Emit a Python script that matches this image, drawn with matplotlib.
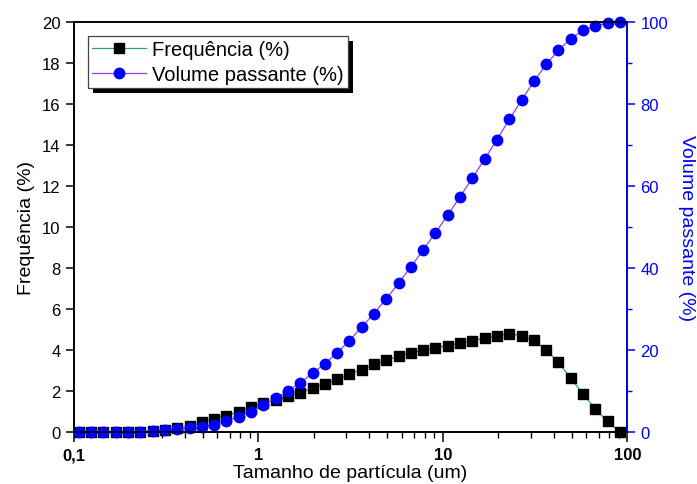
import matplotlib
matplotlib.use("Agg")
import matplotlib.pyplot as plt
from matplotlib.patches import Rectangle
from matplotlib.transforms import IdentityTransform
from matplotlib.ticker import FixedLocator, NullFormatter

plt.rcParams["font.family"] = ["Liberation Sans", "DejaVu Sans"]

# particle size classes (um)
tamanho = [0.1064, 0.1241, 0.1446, 0.1686, 0.1966, 0.2292, 0.2672, 0.3115, 0.3632,
           0.4235, 0.4937, 0.5756, 0.6711, 0.7825, 0.9123, 1.064, 1.241, 1.446,
           1.686, 1.966, 2.292, 2.672, 3.115, 3.632, 4.235, 4.937, 5.756, 6.711,
           7.825, 9.123, 10.64, 12.41, 14.46, 16.86, 19.66, 22.92, 26.72, 31.15,
           36.32, 42.35, 49.37, 57.56, 67.11, 78.25, 91.23]

frequencia = [0.0, 0.0, 0.0, 0.0, 0.0, 0.0, 0.03, 0.1, 0.18, 0.3, 0.47, 0.64, 0.8,
              1.0, 1.2, 1.4, 1.57, 1.76, 1.93, 2.13, 2.35, 2.57, 2.82, 3.05, 3.3,
              3.5, 3.7, 3.87, 4.0, 4.11, 4.22, 4.35, 4.45, 4.58, 4.68, 4.8, 4.7,
              4.48, 4.0, 3.4, 2.62, 1.86, 1.12, 0.52, 0.0]

volume = [0.0, 0.0, 0.0, 0.0, 0.0, 0.1, 0.3, 0.5, 0.7, 0.9, 1.2, 1.8, 2.7, 3.7,
          5.0, 6.5, 8.3, 10.0, 12.0, 14.3, 16.7, 19.3, 22.3, 25.6, 28.9, 32.5,
          36.3, 40.3, 44.4, 48.6, 52.9, 57.4, 61.9, 66.6, 71.3, 76.2, 80.9, 85.5,
          89.6, 93.1, 95.9, 97.9, 99.0, 99.7, 100.0]

x_ticks = [0.1, 1, 10, 100]
x_ticklabels = ["0,1", "1", "10", "100"]

blue = "#0000ff"
teal = "#2aa090"
purple = "#9a3cf0"

fig = plt.figure(figsize=(6.97, 4.85), dpi=100)
ax = fig.add_axes([0.106, 0.107, 0.794, 0.846])
ax2 = ax.twinx()

l1, = ax.plot(tamanho, frequencia, color=teal, lw=0.9, marker="s", ms=6.6,
              mfc="black", mec="black", clip_on=False, label="Frequência (%)")
l2, = ax2.plot(tamanho, volume, color=purple, lw=0.9, marker="o", ms=7.5,
               mfc=blue, mec=blue, clip_on=False, label="Volume passante (%)")

ax.set_xscale("log")
ax.set_xlim(0.1, 100)
ax.set_ylim(0, 20)
ax2.set_ylim(0, 100)

ax.xaxis.set_major_locator(FixedLocator(x_ticks))
ax.set_xticklabels(x_ticklabels, fontweight="bold")
ax.xaxis.set_minor_formatter(NullFormatter())
ax.set_yticks(range(0, 21, 2))
ax2.set_yticks(range(0, 101, 20))
ax2.yaxis.set_minor_locator(FixedLocator(range(10, 100, 20)))

ax.tick_params(axis="x", which="major", direction="out", length=7, width=1.1,
               labelsize=12, pad=4)
ax.tick_params(axis="x", which="minor", direction="out", length=4, width=1)
ax.tick_params(axis="y", which="major", direction="out", length=6, width=1.1,
               labelsize=12)
ax2.tick_params(axis="y", which="major", direction="out", length=6, width=1.1,
                labelsize=12, colors=blue)
ax2.tick_params(axis="y", which="minor", direction="out", length=3.5, width=1,
                colors=blue)

for sp in ax.spines.values():
    sp.set_linewidth(1.2)
for sp in ax2.spines.values():
    sp.set_linewidth(1.2)
ax2.spines["right"].set_color(blue)

ax.set_xlabel("Tamanho de partícula (um)", fontsize=14, labelpad=1)
ax.set_ylabel("Frequência (%)", fontsize=14, labelpad=5)
ax2.set_ylabel("Volume passante (%)", fontsize=14, color=blue,
               rotation=270, labelpad=19)

leg = ax2.legend(handles=[l1, l2], loc="upper left", bbox_to_anchor=(0.025, 0.965),
                 fontsize=14.5, frameon=True, fancybox=False, framealpha=1,
                 edgecolor="#444444", handlelength=2.7, handletextpad=0.3,
                 borderpad=0.2, labelspacing=0.3, borderaxespad=0)
leg.get_frame().set_linewidth(0.9)

# solid black drop shadow behind the legend box, Origin style
fig.canvas.draw()
bb = leg.get_frame().get_window_extent()
ax2.add_patch(Rectangle((bb.x0 + 5, bb.y0 - 5), bb.width, bb.height,
                        transform=IdentityTransform(), facecolor="black",
                        edgecolor="none", zorder=4.5, clip_on=False))

fig.savefig("out.png", dpi=100)
